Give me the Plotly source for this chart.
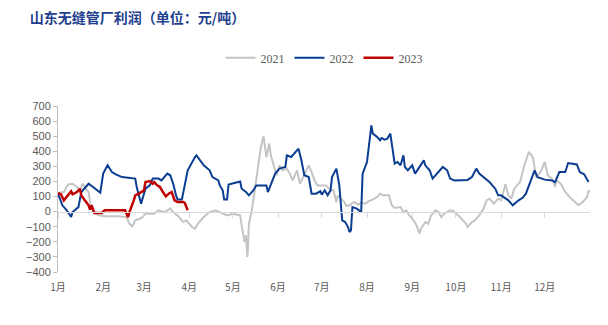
import plotly.graph_objects as go

# Day-of-year positions and profit values (元/吨)
days_2021 = [0, 4, 7, 10, 13, 15, 17, 19, 21, 22, 24, 28, 32, 41, 47, 49, 51, 53, 56, 58, 60, 66, 69, 73, 77, 79, 82, 86, 88, 92, 94, 96, 100,
             104, 108, 111, 116, 120, 125, 126, 128, 129, 130, 131, 133, 135, 137, 139, 141, 143, 145, 146, 148, 150, 152, 154, 157, 159, 161,
             164, 166, 168, 172, 174, 176, 178, 184, 187, 189, 191, 192, 196, 198, 200, 203, 206, 208, 211, 213, 216, 219, 221, 223, 227, 229,
             231, 235, 237, 239, 241, 244, 246, 248, 249, 252, 254, 256, 259, 261, 263, 265, 269, 271, 275, 278, 280, 281, 284, 286, 289, 292,
             294, 296, 299, 302, 304, 307, 309, 311, 313, 317, 320, 323, 325, 326, 328, 331, 334, 336, 339, 341, 342, 345, 348, 351, 355, 357,
             360, 363, 364, 365]
vals_2021 = [123, 130, 181, 185, 163, 141, 185, 152, 130, 64, -3, -25, -31, -31, -36, -80, -97, -58, -47, -36, -14, -14, 9, -3, 20, -3, -25, -69, -58, -102, -113, -80, -36,
             -3, 9, -3, -25, -14, -25, -91, -201, -157, -301, -80, 9, 141, 274, 417, 501, 362, 451, 373, 307, 241, 307, 274, 285, 252, 207,
             274, 185, 229, 307, 262, 207, 174, 174, 141, 141, 64, 108, 68, 37, 42, 64, 46, 60, 53, 68, 81, 97, 119, 108, 108, 42,
             24, 30, -3, 9, -25, -58, -91, -146, -113, -69, -80, -25, 9, -3, -36, -14, 9, 4, -29, -58, -80, -102, -69, -58, -25, 20,
             75, 86, 53, 86, 75, 181, 108, 86, 152, 196, 307, 395, 373, 351, 229, 262, 329, 241, 219, 163, 207, 185, 130, 97, 64, 42,
             64, 97, 141, 130]

days_2022 = [0, 3, 6, 9, 10, 14, 16, 18, 21, 24, 27, 29, 31, 34, 37, 40, 44, 53, 54, 57, 60, 63, 65, 69, 71, 75, 77, 79, 81, 82, 85, 89, 94, 95,
             100, 104, 106, 110, 111, 113, 114, 116, 117, 125, 126, 129, 131, 134, 136, 143, 144, 147, 149, 152, 156, 157, 160, 165, 167, 169,
             172, 174, 177, 180, 181, 183, 185, 187, 188, 191, 192, 193, 195, 197, 199, 200, 201, 202, 205, 208, 209, 212, 215, 216, 219, 221,
             222, 224, 226, 228, 229, 231, 233, 235, 237, 238, 240, 243, 245, 248, 251, 252, 255, 257, 260, 264, 267, 269, 272, 279, 281, 284,
             287, 289, 293, 296, 300, 302, 304, 307, 309, 312, 316, 319, 321, 324, 327, 329, 334, 339, 341, 344, 348, 350, 356, 358, 361, 364]
vals_2022 = [119, 42, 9, -36, -3, 30, 130, 152, 185, 163, 141, 126, 252, 307, 262, 245, 229, 219, 163, 53, 152, 174, 219, 219, 207, 252, 241, 185, 108, 80, 80, 274, 362, 373,
             307, 274, 229, 207, 174, 141, 81, 81, 179, 200, 152, 130, 108, 141, 174, 174, 130, 196, 252, 285, 296, 373, 362, 417, 340, 241,
             229, 119, 119, 135, 113, 141, 108, 141, 229, 285, 229, 174, -58, -69, -102, -135, -124, 30, 20, -3, 252, 329, 572, 517, 494, 473,
             488, 477, 484, 517, 451, 318, 329, 307, 373, 296, 274, 307, 252, 296, 340, 307, 274, 219, 252, 296, 274, 219, 207, 213, 210, 229,
             285, 252, 219, 196, 152, 108, 108, 86, 75, 42, 75, 93, 119, 196, 274, 229, 212, 207, 196, 262, 262, 322, 313, 262, 247, 196]

days_2023 = [0, 2, 4, 7, 9, 10, 13, 15, 16, 18, 21, 22, 23, 25, 30, 32, 45, 46, 48, 49, 52, 53, 56, 59, 60, 63, 65, 66, 68, 70, 72, 74, 76, 78,
             80, 82, 86, 87, 89]
vals_2023 = [123, 115, 75, 108, 135, 115, 130, 152, 108, 80, 42, 13, 42, -9, -9, 9, 13, 9, -36, -3, 75, 108, 123, 141, 196, 203, 185, 196, 174, 163, 130, 101, 119, 130,
             75, 64, 64, 57, 9]

month_starts = [0, 31, 59, 90, 120, 151, 181, 212, 243, 273, 304, 334]
month_labels = ["1月", "2月", "3月", "4月", "5月", "6月", "7月", "8月", "9月", "10月", "11月", "12月"]
y_ticks = list(range(-400, 701, 100))

series = [
    ("2021", days_2021, vals_2021, "#c4c4c4", 2),
    ("2022", days_2022, vals_2022, "#0b3d91", 2),
    ("2023", days_2023, vals_2023, "#c00000", 2.5),
]

fig = go.Figure()
for name, xs, ys, color, w in series:
    fig.add_trace(go.Scatter(x=xs, y=ys, name=name, mode="lines",
                             line=dict(color=color, width=w)))

# invisible trace for the zero-line axis with month ticks
fig.add_trace(go.Scatter(x=[0, 365], y=[0, 0], xaxis="x2", yaxis="y", mode="lines",
                         line=dict(width=0), showlegend=False, hoverinfo="skip"))

YMIN, YMAX = -400, 700
fig.update_layout(
    width=608, height=325,
    margin=dict(l=58, r=18, t=106, b=53),
    paper_bgcolor="white", plot_bgcolor="white",
    title=dict(text="<b>山东无缝管厂利润（单位：元/吨）</b>", x=0.049, xanchor="left",
               y=0.945, yanchor="middle",
               font=dict(family="Noto Sans CJK SC", size=14, color="#1f3f8f")),
    legend=dict(orientation="h", x=0.5, xanchor="center", y=1.29, yanchor="middle",
                font=dict(family="Liberation Serif", size=12, color="#595959"),
                itemwidth=30, tracegroupgap=0),
    showlegend=True,
    xaxis=dict(range=[0, 365], tickvals=month_starts, ticktext=month_labels,
               showgrid=False, zeroline=False, showline=False, ticks="",
               ticklabelstandoff=8,
               tickfont=dict(family="Noto Sans CJK SC", size=10, color="#595959")),
    xaxis2=dict(range=[0, 365], tickvals=month_starts, overlaying="x", anchor="free",
                position=(0 - YMIN) / (YMAX - YMIN), side="bottom",
                showgrid=False, zeroline=False, showline=True, linecolor="#d9d9d9", linewidth=1,
                ticks="outside", ticklen=5, tickcolor="#d9d9d9", showticklabels=False),
    yaxis=dict(range=[YMIN, YMAX], tickvals=y_ticks, showgrid=False, zeroline=False,
               showline=True, linecolor="#bfbfbf", linewidth=1,
               ticks="outside", ticklen=4, tickcolor="#bfbfbf",
               tickfont=dict(family="Liberation Sans", size=11, color="#595959")),
)

fig.write_html("out.html")
